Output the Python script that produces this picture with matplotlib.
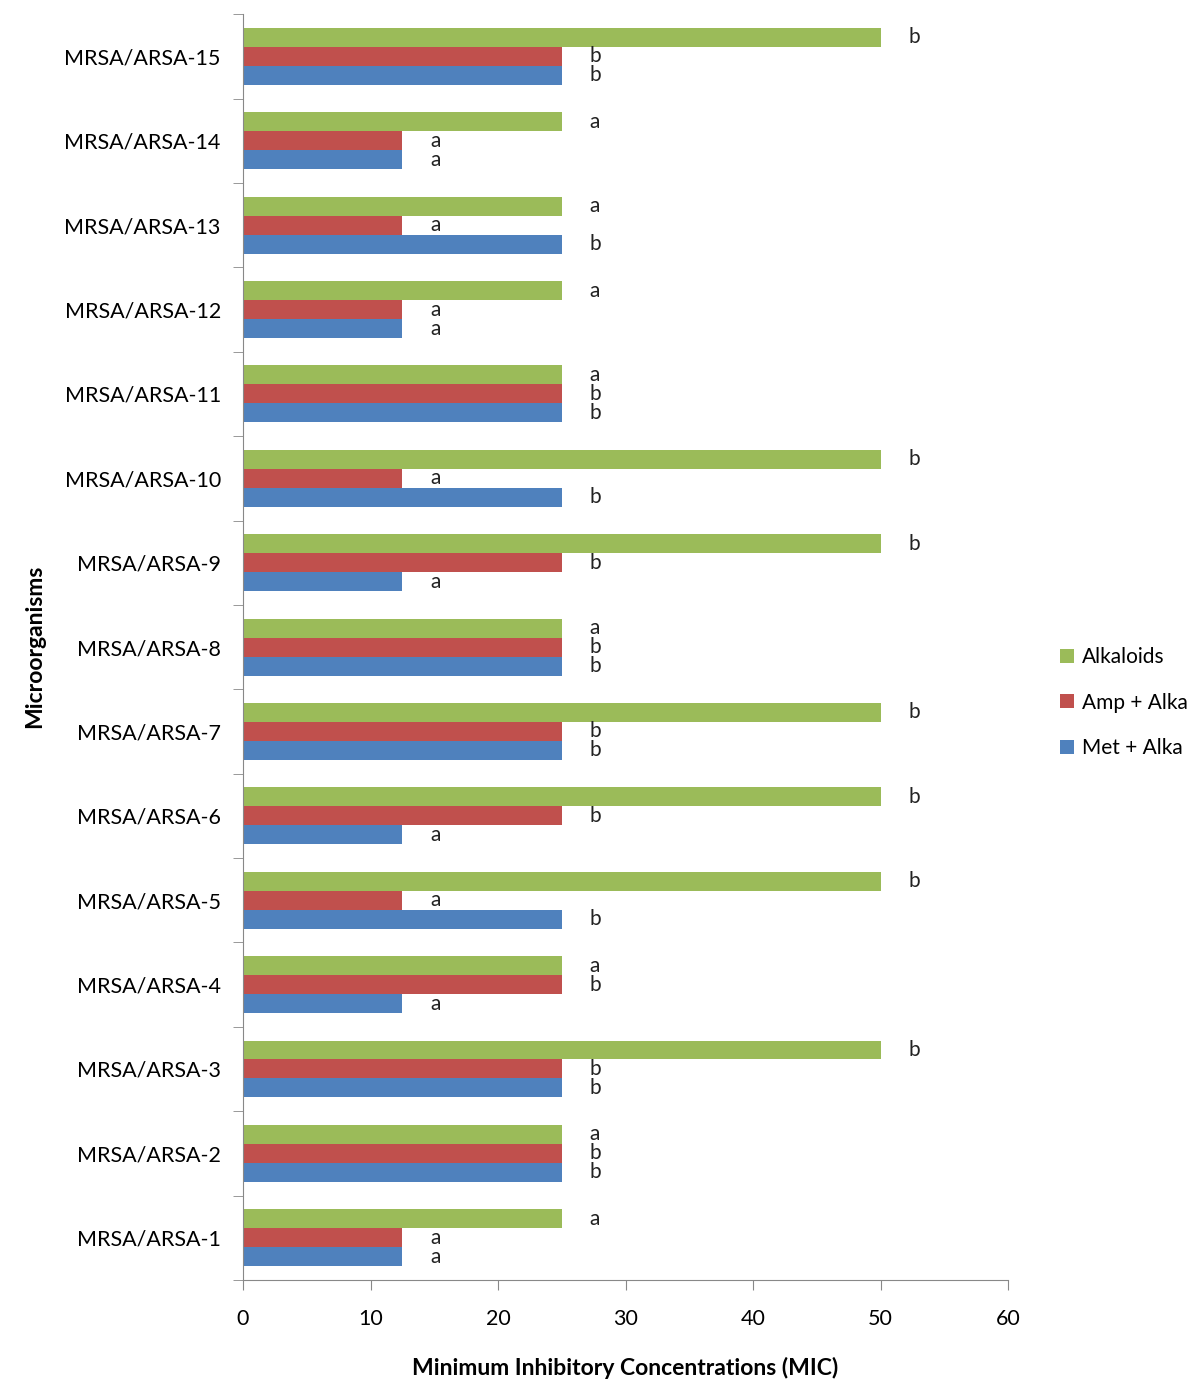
import numpy as np
import matplotlib.pyplot as plt

plt.rcParams['font.family'] = ['Lato', 'DejaVu Sans']

strains = ["MRSA/ARSA-%d" % i for i in range(1, 16)]
met_alka = [12.5, 25, 25, 12.5, 25, 12.5, 25, 25, 12.5, 25, 25, 12.5, 25, 12.5, 25]
amp_alka = [12.5, 25, 25, 25, 12.5, 25, 25, 25, 25, 12.5, 25, 12.5, 12.5, 12.5, 25]
alkaloids = [25, 25, 50, 25, 50, 50, 50, 25, 50, 50, 25, 25, 25, 25, 50]
met_letters = ["a", "b", "b", "a", "b", "a", "b", "b", "a", "b", "b", "a", "b", "a", "b"]
amp_letters = ["a", "b", "b", "b", "a", "b", "b", "b", "b", "a", "b", "a", "a", "a", "b"]
alk_letters = ["a", "a", "b", "a", "b", "b", "b", "a", "b", "b", "a", "a", "a", "a", "b"]

c_met = "#4f81bd"
c_amp = "#c0504d"
c_alk = "#9bbb59"

fig = plt.figure(figsize=(12, 13.97), dpi=100)
ax = fig.add_axes([0.2025, 0.0838, 0.6375, 0.906])

y = np.arange(len(strains))
h = 0.225
series = [(met_alka, met_letters, c_met, "Met + Alka", -h),
          (amp_alka, amp_letters, c_amp, "Amp + Alka", 0),
          (alkaloids, alk_letters, c_alk, "Alkaloids", h)]
for vals, letters, col, name, off in series:
    ax.barh(y + off, vals, height=h, color=col, label=name)
    for yi, v, lt in zip(y, vals, letters):
        ax.text(v + 2.2, yi + off, lt, fontsize=15, va="center", ha="left", color="#222222")

ax.set_xlim(0, 60)
ax.set_ylim(-0.5, len(strains) - 0.5)
ax.set_xticks(range(0, 61, 10))
ax.set_yticks(y)
ax.set_yticklabels(strains, fontsize=15.5)
ax.set_yticks(np.arange(-0.5, len(strains), 1), minor=True)
ax.tick_params(axis="y", which="major", length=0, pad=16)
ax.tick_params(axis="y", which="minor", length=7, color="#888888")
ax.tick_params(axis="x", length=7, color="#888888", labelsize=15.5, pad=14)

for s in ["top", "right"]:
    ax.spines[s].set_visible(False)
ax.spines["left"].set_color("#888888")
ax.spines["bottom"].set_color("#888888")

ax.set_xlabel("Minimum Inhibitory Concentrations (MIC)", fontsize=16.5, fontweight="bold", labelpad=20)
fig.text(0.029, 0.537, "Microorganisms", rotation=90, fontsize=16.5, fontweight="bold", va="center", ha="center")

handles, labels = ax.get_legend_handles_labels()
fig.legend(handles[::-1], labels[::-1], loc="center left", bbox_to_anchor=(0.868, 0.497),
           frameon=False, fontsize=15, handlelength=0.65, handleheight=0.65,
           handletextpad=0.4, labelspacing=1.22)

plt.savefig("out.png", dpi=100)
plt.close()
